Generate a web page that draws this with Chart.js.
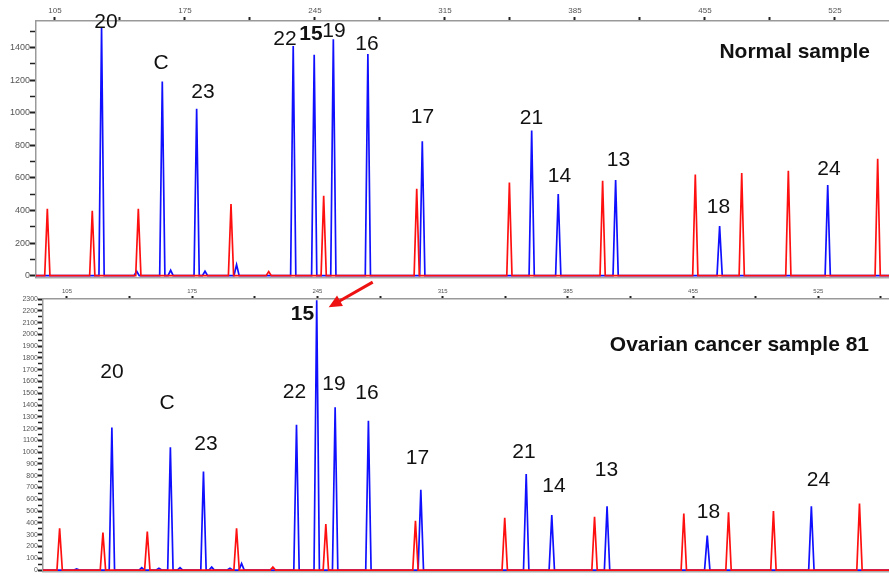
<!DOCTYPE html>
<html><head><meta charset="utf-8">
<script src="https://cdn.jsdelivr.net/npm/chart.js@4"></script>
<style>
html,body{margin:0;padding:0;background:#fff;}
#wrap{position:relative;width:889px;height:576px;overflow:hidden;background:#fff;}
#c1wrap{position:absolute;left:0;top:0;width:889px;height:283px;}
#c2wrap{position:absolute;left:0;top:280px;width:889px;height:296px;}
</style></head><body>
<div id="wrap"><div id="c1wrap"><canvas id="c1"></canvas></div><div id="c2wrap"><canvas id="c2"></canvas></div></div>
<script>
// ---------------- data ----------------
const sizeTickLabels = [105,175,245,315,385,455,525];
const peakNames = ['20','C','23','22','15','19','16','17','21','14','13','18','24'];
const peakSizes = [130.1,162.8,181.3,233.3,244.6,254.9,273.5,302.8,361.7,376.0,406.9,462.9,521.1];
const normalBlue = [1525,1192,1025,1411,1356,1452,1362,826,891,501,587,305,556];
const cancerBlue = [1210,1042,837,1233,2290,1382,1266,682,814,466,542,292,542];

const stdSizes = [100.9,125.1,149.9,199.8,249.7,299.8,349.7,399.9,449.8,474.8,499.9,548.0];
const normalRed = [411,399,411,440,491,534,572,583,621,630,644,718];
const cancerRed = [354,318,326,354,390,418,444,452,480,489,500,564];

// small background bumps
const normalBlueMinorSizes = [149.0,167.3,185.8,202.8];
const normalBlueMinor = [27,33,27,67];
const cancerBlueMinorSizes = [110.4,146.8,156.4,168.2,185.9,196.1,202.6];
const cancerBlueMinor = [10,20,15,20,25,15,55];
const redMinorSizes = [220.1];
const normalRedMinor = [25];
const cancerRedMinor = [25];

// label anchor positions (size, signal)
const normalLabelX = [132.5,162.1,184.7,228.9,242.9,255.2,273.0,302.9,361.6,376.7,408.4,462.3,521.8];
const normalLabelY = [1521,1270,1092,1417,1448,1466,1387,939,933,577,675,387,620];
const cancerLabelX = [130.2,160.9,182.7,232.2,236.6,254.2,272.7,300.9,360.5,377.2,406.6,463.6,525.1];
const cancerLabelY = [1626,1365,1019,1457,2123,1525,1449,901,952,666,800,438,716];

// ---------------- helpers ----------------
const FONT = "'Liberation Sans', Arial, sans-serif";
function buildTrace(sizes, heights, xmin, xmax, hw) {
  const pts = [{x:xmin,y:0}];
  const order = sizes.map((s,i)=>i).sort((a,b)=>sizes[a]-sizes[b]);
  order.forEach(i => {
    pts.push({x:sizes[i]-hw,y:0},{x:sizes[i],y:heights[i]},{x:sizes[i]+hw,y:0});
  });
  pts.push({x:xmax,y:0});
  return pts;
}

const labelPlugin = {
  id:'peakLabels',
  afterDatasetsDraw(chart, args, opts) {
    const ctx = chart.ctx, xs = chart.scales.x, ys = chart.scales.y;
    ctx.save();
    ctx.fillStyle = '#111';
    ctx.textAlign = 'center';
    ctx.textBaseline = 'alphabetic';
    peakNames.forEach((n,i) => {
      ctx.font = (n==='15' ? 'bold ' : '') + '21px ' + FONT;
      ctx.fillText(n, xs.getPixelForValue(opts.lx[i]), ys.getPixelForValue(opts.ly[i]));
    });
    ctx.font = 'bold 21px ' + FONT;
    ctx.textAlign = 'right';
    ctx.fillText(opts.title, chart.chartArea.right - opts.titleDx, chart.chartArea.top + opts.titleDy);
    if (opts.arrow) {
      const px = xs.getPixelForValue(peakSizes[4]), py = ys.getPixelForValue(cancerBlue[4]);
      const tx = px + 12, ty = py + 7, sx = px + 56, sy = py - 18;
      const ang = Math.atan2(ty - sy, tx - sx);
      ctx.strokeStyle = '#ee1111'; ctx.fillStyle = '#ee1111'; ctx.lineWidth = 3;
      ctx.beginPath();
      ctx.moveTo(sx, sy);
      ctx.lineTo(tx - 10*Math.cos(ang), ty - 10*Math.sin(ang));
      ctx.stroke();
      ctx.beginPath();
      ctx.moveTo(tx, ty);
      ctx.lineTo(tx - 13*Math.cos(ang) + 6*Math.sin(ang), ty - 13*Math.sin(ang) - 6*Math.cos(ang));
      ctx.lineTo(tx - 13*Math.cos(ang) - 6*Math.sin(ang), ty - 13*Math.sin(ang) + 6*Math.cos(ang));
      ctx.closePath(); ctx.fill();
    }
    ctx.restore();
  }
};

function makeChart(id, cfg) {
  const blue = buildTrace(peakSizes.concat(cfg.blueMinorSizes), cfg.blue.concat(cfg.blueMinor), cfg.xmin, cfg.xmax, cfg.hw);
  const red = buildTrace(stdSizes.concat(redMinorSizes), cfg.red.concat(cfg.redMinor), cfg.xmin, cfg.xmax, cfg.hw);
  return new Chart(document.getElementById(id), {
    type:'line',
    data:{datasets:[
      {label:'red', data:red, borderColor:'#ff1010', borderWidth:1.7, pointRadius:0, tension:0, fill:false},
      {label:'blue', data:blue, borderColor:'#1010ff', borderWidth:1.7, pointRadius:0, tension:0, fill:false}
    ]},
    options:{
      responsive:true, maintainAspectRatio:false, animation:false,
      layout:{padding:0},
      plugins:{legend:{display:false}, tooltip:{enabled:false},
        peakLabels:{lx:cfg.lx, ly:cfg.ly, title:cfg.title, titleDx:cfg.titleDx, titleDy:cfg.titleDy, arrow:cfg.arrow}},
      scales:{
        x:{type:'linear', position:'top', min:cfg.xmin, max:cfg.xmax,
          ticks:{stepSize:35, includeBounds:false, autoSkip:false, maxRotation:0, padding:1,
            font:{size:cfg.xFont, family:FONT}, color:'#555',
            callback:(v)=> sizeTickLabels.includes(Math.round(v)) ? String(Math.round(v)) : ''},
          grid:{drawOnChartArea:false, drawTicks:true, tickLength:cfg.xTick, tickColor:'#222', tickWidth:2},
          border:{color:'#999', width:1.5},
          afterFit:(s)=>{s.height = cfg.topH;}
        },
        xb:{type:'linear', position:'bottom', min:cfg.xmin, max:cfg.xmax,
          ticks:{display:false}, grid:{display:false},
          border:{color:'#aaa', width:1.5},
          afterFit:(s)=>{s.height = cfg.botH;}
        },
        y:{type:'linear', position:'left', min:cfg.ymin, max:cfg.ymax,
          ticks:{stepSize:cfg.yStep, includeBounds:false, autoSkip:false, padding:0,
            font:{size:cfg.yFont, family:FONT}, color:'#555',
            callback:(v)=> (Math.round(v) % cfg.yLabelStep === 0) ? String(Math.round(v)) : ''},
          grid:{drawOnChartArea:false, drawTicks:true, tickLength:cfg.yTick, tickColor:'#222',
            tickWidth:(c)=> (Math.round(c.tick.value) % cfg.yLabelStep === 0) ? 2 : 1.5},
          border:{color:'#999', width:1.5},
          afterFit:(s)=>{s.width = cfg.leftW;}
        }
      }
    },
    plugins:[labelPlugin]
  });
}

makeChart('c1', {
  blue:normalBlue, blueMinorSizes:normalBlueMinorSizes, blueMinor:normalBlueMinor,
  red:normalRed, redMinor:normalRedMinor,
  xmin:94.8, xmax:554.1, ymin:-12, ymax:1564, hw:1.4,
  yStep:100, yLabelStep:200, yFont:9, xFont:8, xTick:4, yTick:6,
  topH:21, botH:5, leftW:36,
  lx:normalLabelX, ly:normalLabelY, title:'Normal sample', titleDx:19, titleDy:37, arrow:false
});
makeChart('c2', {
  blue:cancerBlue, blueMinorSizes:cancerBlueMinorSizes, blueMinor:cancerBlueMinor,
  red:cancerRed, redMinor:cancerRedMinor,
  xmin:91.6, xmax:564.5, ymin:-15, ymax:2300, hw:1.5,
  yStep:50, yLabelStep:100, yFont:7, xFont:6, xTick:3, yTick:5,
  topH:19, botH:2, leftW:43,
  lx:cancerLabelX, ly:cancerLabelY, title:'Ovarian cancer sample 81', titleDx:20, titleDy:52, arrow:true
});
</script>
</body></html>
